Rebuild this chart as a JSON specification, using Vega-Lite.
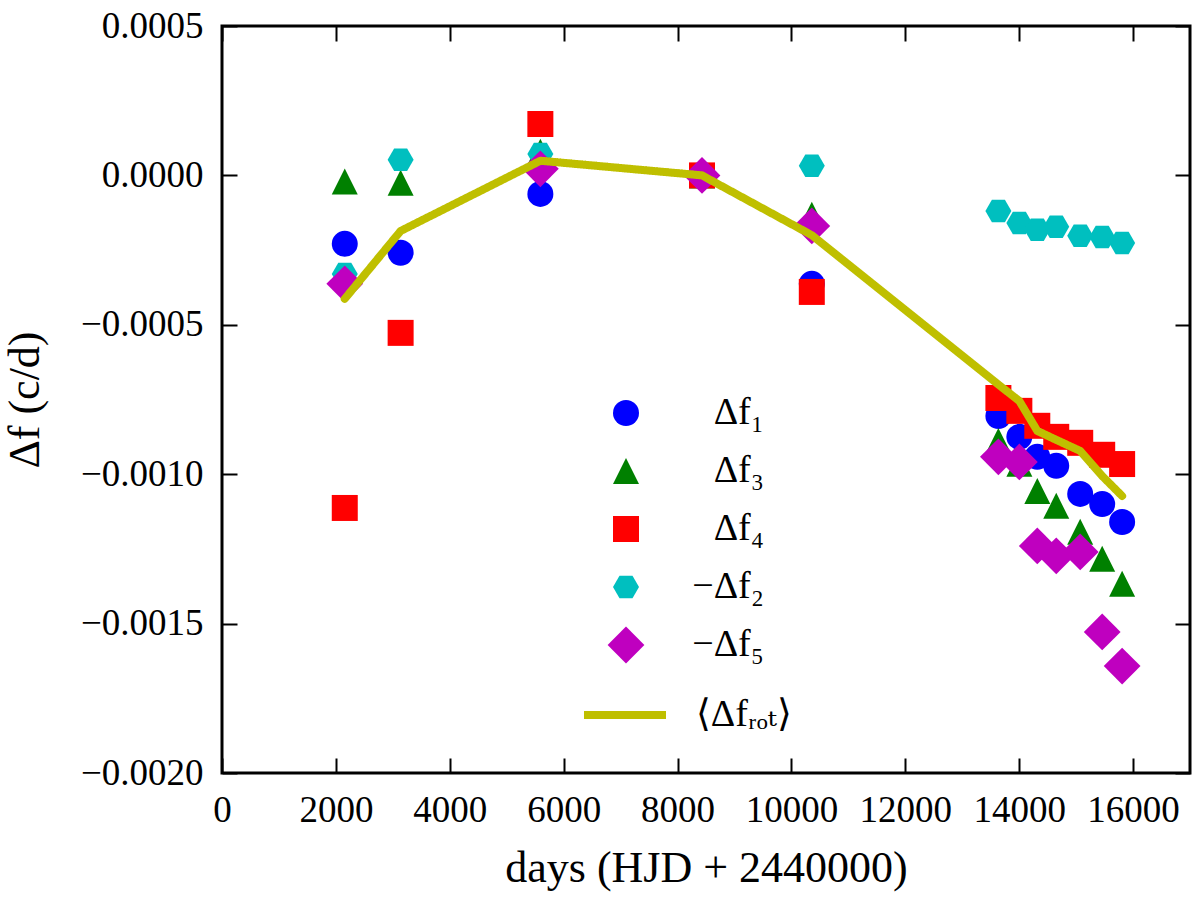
{
  "$schema": "https://vega.github.io/schema/vega-lite/v6.json",
  "width": 968,
  "height": 747,
  "autosize": {"type": "none"},
  "padding": {"left": 222, "top": 26, "right": 10, "bottom": 125},
  "background": "white",
  "config": {
    "font": "Liberation Serif, DejaVu Serif, serif",
    "view": {"stroke": "black", "strokeWidth": 3, "fill": null},
    "axis": {"ticks": true, "tickColor": "#000000", "tickOpacity": 1, "tickWidth": 2}
  },
  "data": {
    "values": [
      {"s": "f1", "d": 2156, "v": -0.000229},
      {"s": "f1", "d": 3137, "v": -0.000259},
      {"s": "f1", "d": 5591, "v": -0.000062},
      {"s": "f1", "d": 8430, "v": 0},
      {"s": "f1", "d": 10358, "v": -0.000363},
      {"s": "f1", "d": 13635, "v": -0.000805},
      {"s": "f1", "d": 14003, "v": -0.000875},
      {"s": "f1", "d": 14318, "v": -0.000942},
      {"s": "f1", "d": 14651, "v": -0.000972},
      {"s": "f1", "d": 15072, "v": -0.001066},
      {"s": "f1", "d": 15458, "v": -0.0011},
      {"s": "f1", "d": 15808, "v": -0.00116},
      {"s": "f3", "d": 2156, "v": -0.00002},
      {"s": "f3", "d": 3137, "v": -0.000025},
      {"s": "f3", "d": 5591, "v": 0.000079},
      {"s": "f3", "d": 8430, "v": 0},
      {"s": "f3", "d": 10358, "v": -0.000132},
      {"s": "f3", "d": 13635, "v": -0.000889},
      {"s": "f3", "d": 14003, "v": -0.000965},
      {"s": "f3", "d": 14318, "v": -0.001056},
      {"s": "f3", "d": 14651, "v": -0.001106},
      {"s": "f3", "d": 15072, "v": -0.001193},
      {"s": "f3", "d": 15458, "v": -0.001283},
      {"s": "f3", "d": 15808, "v": -0.001367},
      {"s": "f4", "d": 2156, "v": -0.001113},
      {"s": "f4", "d": 3137, "v": -0.000527},
      {"s": "f4", "d": 5591, "v": 0.000172},
      {"s": "f4", "d": 8430, "v": 0},
      {"s": "f4", "d": 10358, "v": -0.00039},
      {"s": "f4", "d": 13635, "v": -0.000745},
      {"s": "f4", "d": 14003, "v": -0.000788},
      {"s": "f4", "d": 14318, "v": -0.000838},
      {"s": "f4", "d": 14651, "v": -0.000875},
      {"s": "f4", "d": 15072, "v": -0.000895},
      {"s": "f4", "d": 15458, "v": -0.000935},
      {"s": "f4", "d": 15808, "v": -0.000966},
      {"s": "f2", "d": 2156, "v": -0.00033},
      {"s": "f2", "d": 3137, "v": 0.000052},
      {"s": "f2", "d": 5591, "v": 0.000072},
      {"s": "f2", "d": 8430, "v": 0},
      {"s": "f2", "d": 10358, "v": 0.000032},
      {"s": "f2", "d": 13635, "v": -0.000119},
      {"s": "f2", "d": 14003, "v": -0.000159},
      {"s": "f2", "d": 14318, "v": -0.000182},
      {"s": "f2", "d": 14651, "v": -0.000172},
      {"s": "f2", "d": 15072, "v": -0.000202},
      {"s": "f2", "d": 15458, "v": -0.000206},
      {"s": "f2", "d": 15808, "v": -0.000226},
      {"s": "f5", "d": 2156, "v": -0.000363},
      {"s": "f5", "d": 5591, "v": 0.000022},
      {"s": "f5", "d": 8430, "v": 0},
      {"s": "f5", "d": 10358, "v": -0.000169},
      {"s": "f5", "d": 13635, "v": -0.000942},
      {"s": "f5", "d": 14003, "v": -0.000959},
      {"s": "f5", "d": 14318, "v": -0.00124},
      {"s": "f5", "d": 14651, "v": -0.001273},
      {"s": "f5", "d": 15072, "v": -0.00126},
      {"s": "f5", "d": 15458, "v": -0.001528},
      {"s": "f5", "d": 15808, "v": -0.001642},
      {"s": "rot", "d": 2156, "v": -0.000413},
      {"s": "rot", "d": 3137, "v": -0.000186},
      {"s": "rot", "d": 5591, "v": 0.000049},
      {"s": "rot", "d": 8430, "v": 0},
      {"s": "rot", "d": 10358, "v": -0.0002},
      {"s": "rot", "d": 13635, "v": -0.0007},
      {"s": "rot", "d": 14003, "v": -0.000755},
      {"s": "rot", "d": 14318, "v": -0.000855},
      {"s": "rot", "d": 14651, "v": -0.000885},
      {"s": "rot", "d": 15072, "v": -0.000922},
      {"s": "rot", "d": 15458, "v": -0.001006},
      {"s": "rot", "d": 15808, "v": -0.001073}
    ]
  },
  "layer": [
    {
      "transform": [{"filter": "datum.s !== 'rot'"}],
      "mark": {"type": "point", "filled": true, "opacity": 1, "size": 676, "strokeWidth": 0},
      "encoding": {
        "x": {
          "field": "d", "type": "quantitative",
          "scale": {"domain": [0, 17000], "nice": false, "zero": false},
          "axis": {
            "orient": "bottom", "values": [0, 2000, 4000, 6000, 8000, 10000, 12000, 14000, 16000], "format": "d",
            "zindex": 2, "grid": false, "domain": false, "offset": -15,
            "ticks": true, "tickSize": 15, "tickWidth": 2, "tickColor": "#000000", "tickOpacity": 1,
            "labelFont": "Liberation Serif, DejaVu Serif, serif", "labelFontSize": 37, "labelColor": "black", "labelPadding": 19, "labelFlush": false,
            "title": "days (HJD + 2440000)", "titleFont": "Liberation Serif, DejaVu Serif, serif", "titleFontSize": 44, "titleFontWeight": "normal", "titleColor": "black", "titlePadding": 18
          }
        },
        "y": {
          "field": "v", "type": "quantitative",
          "scale": {"domain": [-0.002, 0.0005], "nice": false, "zero": false},
          "axis": {
            "orient": "left", "values": [-0.002, -0.0015, -0.001, -0.0005, 0, 0.0005], "format": ".4f",
            "zindex": 2, "grid": false, "domain": false, "offset": -15,
            "ticks": true, "tickSize": 15, "tickWidth": 2, "tickColor": "#000000", "tickOpacity": 1,
            "labelFont": "Liberation Serif, DejaVu Serif, serif", "labelFontSize": 37, "labelColor": "black", "labelPadding": 19,
            "title": "Δf (c/d)", "titleFont": "Liberation Serif, DejaVu Serif, serif", "titleFontSize": 44, "titleFontWeight": "normal", "titleColor": "black", "titlePadding": 33
          }
        },
        "color": {
          "field": "s", "type": "nominal",
          "scale": {"domain": ["f1", "f3", "f4", "f2", "f5"], "range": ["#0000ff", "#008000", "#ff0000", "#00bfbf", "#bf00bf"]},
          "legend": {
            "title": null,
            "orient": "none",
            "legendX": 385,
            "legendY": 368,
            "labelFont": "Liberation Serif, DejaVu Serif, serif",
            "labelFontSize": 38,
            "labelColor": "black",
            "labelAlign": "right",
            "labelOffset": 119,
            "rowPadding": 20,
            "symbolSize": 676,
            "labelExpr": "{'f1': 'Δf₁', 'f3': 'Δf₃', 'f4': 'Δf₄', 'f2': '−Δf₂', 'f5': '−Δf₅'}[datum.value]"
          }
        },
        "shape": {
          "field": "s", "type": "nominal",
          "scale": {"domain": ["f1", "f3", "f4", "f2", "f5"], "range": ["circle", "M0,-1L1,1L-1,1Z", "square", "M-1,0L-0.5,-0.866L0.5,-0.866L1,0L0.5,0.866L-0.5,0.866Z", "M0,-1.414L1.414,0L0,1.414L-1.414,0Z"]}
        }
      }
    },
    {
      "transform": [{"filter": "datum.s === 'rot'"}],
      "mark": {"type": "line", "color": "#bfbf00", "strokeWidth": 8, "strokeCap": "round", "strokeJoin": "round"},
      "encoding": {
        "x": {
          "field": "d", "type": "quantitative",
          "axis": {
            "orient": "top", "values": [0, 2000, 4000, 6000, 8000, 10000, 12000, 14000, 16000], "labels": false, "title": null,
            "zindex": 2, "grid": false, "domain": false, "offset": -15,
            "ticks": true, "tickSize": 15, "tickWidth": 2, "tickColor": "#000000", "tickOpacity": 1
          }
        },
        "y": {
          "field": "v", "type": "quantitative",
          "axis": {
            "orient": "right", "values": [-0.002, -0.0015, -0.001, -0.0005, 0, 0.0005], "labels": false, "title": null,
            "zindex": 2, "grid": false, "domain": false, "offset": -15,
            "ticks": true, "tickSize": 15, "tickWidth": 2, "tickColor": "#000000", "tickOpacity": 1
          }
        },
        "strokeDash": {
          "field": "s", "type": "nominal",
          "scale": {"domain": ["rot"], "range": [[1, 0]]},
          "legend": {
            "title": null,
            "orient": "none",
            "legendX": 358,
            "legendY": 644,
            "labelFont": "Liberation Serif, DejaVu Serif, serif",
            "labelFontSize": 38,
            "labelColor": "black",
            "labelOffset": 26,
            "symbolType": "stroke",
            "symbolSize": 6724,
            "symbolStrokeWidth": 8,
            "symbolStrokeColor": "#bfbf00",
            "labelExpr": "'⟨Δfᵣₒₜ⟩'"
          }
        }
      }
    }
  ],
  "resolve": {"axis": {"x": "independent", "y": "independent"}}
}
